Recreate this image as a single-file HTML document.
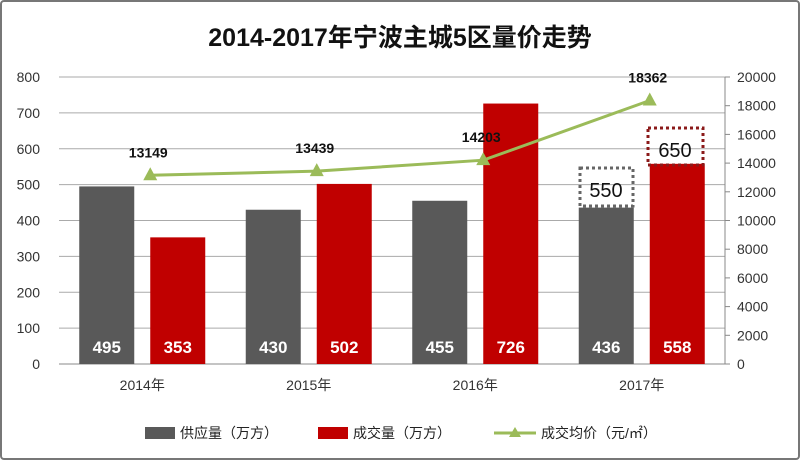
<!DOCTYPE html>
<html><head><meta charset="utf-8"><style>
body{margin:0;background:#fff}
svg text{font-family:"Liberation Sans","Noto Sans CJK SC",sans-serif}
</style></head><body>
<svg width="800" height="460" viewBox="0 0 800 460" xmlns="http://www.w3.org/2000/svg">
<rect x="1" y="1" width="798" height="458" rx="3" fill="#fff" stroke="#777" stroke-width="2"/>
<text x="400" y="46" text-anchor="middle" font-size="25" font-weight="bold" fill="#111">2014-2017年宁波主城5区量价走势</text>
<g id="grid"></g><g id="bars"></g><g id="line"></g><g id="labels"></g>
<rect x="580" y="168" width="53" height="38" fill="none" stroke="#666" stroke-width="3" stroke-dasharray="3,3"/>
<text x="606" y="197" text-anchor="middle" font-size="20" fill="#111">550</text>
<rect x="648" y="128" width="55" height="37" fill="none" stroke="#8b1a1a" stroke-width="3" stroke-dasharray="3,3"/>
<text x="675" y="157" text-anchor="middle" font-size="20" fill="#111">650</text>
<g>
<rect x="145" y="427" width="30" height="12" fill="#595959"/>
<text x="180" y="438" font-size="14" fill="#222">供应量（万方）</text>
<rect x="318" y="427" width="30" height="12" fill="#c00000"/>
<text x="353" y="438" font-size="14" fill="#222">成交量（万方）</text>
<line x1="494" y1="433" x2="536" y2="433" stroke="#9bbb59" stroke-width="3"/>
<path d="M515,427 L521,437 L509,437Z" fill="#9bbb59"/>
<text x="541" y="438" font-size="14" fill="#222">成交均价（元/㎡）</text>
</g>
</svg>
<script>
const categories=["2014年","2015年","2016年","2017年"];
const supply=[495,430,455,436];
const deal=[353,502,726,558];
const price=[13149,13439,14203,18362];
const leftTicks=[0,100,200,300,400,500,600,700,800];
const rightTicks=[0,2000,4000,6000,8000,10000,12000,14000,16000,18000,20000];
const NS="http://www.w3.org/2000/svg";
const X0=59,X1=725,Y0=364,Y1=77;
const yL=v=>Y0-(v/800)*(Y0-Y1);
const yR=v=>Y0-(v/20000)*(Y0-Y1);
const band=(X1-X0)/categories.length;
const cx=i=>X0+band*(i+0.5);
function mk(tag,attrs,parent){const e=document.createElementNS(NS,tag);for(const k in attrs)e.setAttribute(k,attrs[k]);parent.appendChild(e);return e;}
const grid=document.getElementById('grid'),bars=document.getElementById('bars'),line=document.getElementById('line'),labels=document.getElementById('labels');
leftTicks.forEach(t=>{
 const l=mk('line',{x1:X0,x2:X1,y1:yL(t),y2:yL(t),stroke:t===0?'#888':'#aaa','stroke-width':1},grid);
 
 
 const tx=mk('text',{x:40,y:yL(t)+5,'text-anchor':'end','font-size':14,fill:'#333'},grid);tx.textContent=t;
 
 
});
const ra=mk('line',{x1:X1,x2:X1,y1:Y1,y2:Y0,stroke:'#888'},grid);


rightTicks.forEach(t=>{
 mk('line',{x1:X1,x2:X1+5,y1:yR(t),y2:yR(t),stroke:'#888'},grid);
 const tx=mk('text',{x:737,y:yR(t)+5,'font-size':14,fill:'#333'},grid);tx.textContent=t;
 
 
});
categories.forEach((c,i)=>{
 const tx=mk('text',{x:cx(i),y:390,'text-anchor':'middle','font-size':14,fill:'#333'},labels);tx.textContent=c;
 
 
 const bw=55;
 [[supply[i],'#595959',cx(i)-bw-8,'bar-supply'],[deal[i],'#c00000',cx(i)+8,'bar-deal']].forEach(([v,col,x,n])=>{
  const r=mk('rect',{x:x,y:yL(v),width:bw,height:Y0-yL(v),fill:col},bars);
  
  
  const t=mk('text',{x:x+bw/2,y:353,'text-anchor':'middle','font-size':17,'font-weight':'bold',fill:'#fff'},labels);t.textContent=v;
  
  
 });
});
const pts=price.map((p,i)=>[cx(i)+8,yR(p)]);
const pl=mk('polyline',{points:pts.map(p=>p.join(',')).join(' '),fill:'none',stroke:'#9bbb59','stroke-width':3},line);


pts.forEach((p,i)=>{
 const m=mk('path',{d:`M${p[0]},${p[1]-8} L${p[0]+7},${p[1]+5} L${p[0]-7},${p[1]+5}Z`,fill:'#9bbb59'},line);
 
 
 const t=mk('text',{x:p[0]-2,y:p[1]-18,'text-anchor':'middle','font-size':14,'font-weight':'bold',fill:'#111'},labels);t.textContent=price[i];
 
 
});
</script>
</body></html>
